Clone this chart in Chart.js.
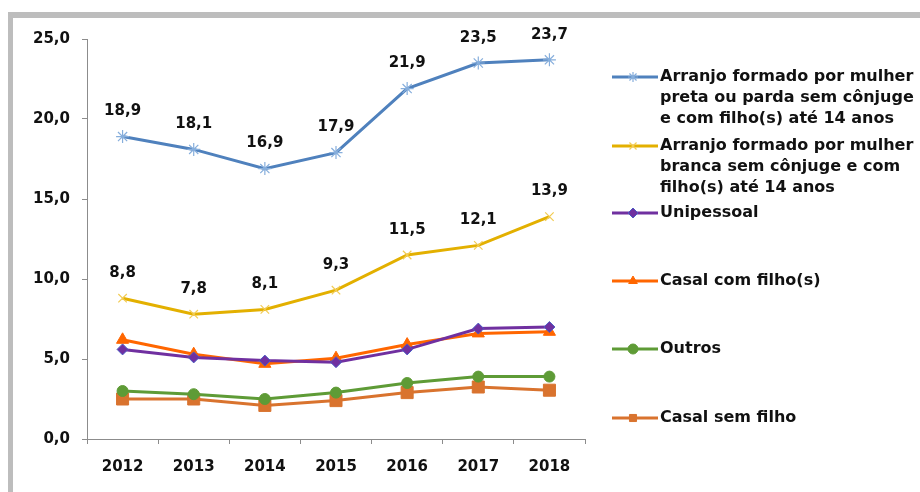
<!DOCTYPE html>
<html>
<head>
<meta charset="utf-8">
<script src="https://cdn.jsdelivr.net/npm/chart.js@4"></script>
<style>
  html, body { margin: 0; padding: 0; background: #fff; }
  #frame {
    position: absolute; left: 8px; top: 12px;
    width: 907px; height: 474px;
    border-top: 6px solid #bdbdbd; border-left: 5px solid #bdbdbd;
  }
  canvas { display: block; }
</style>
</head>
<body>
<div id="frame"><canvas id="grafico" width="907" height="474"></canvas></div>
<script>
const anos = ['2012', '2013', '2014', '2015', '2016', '2017', '2018'];

const pretaParda = [18.9, 18.1, 16.9, 17.9, 21.9, 23.5, 23.7];
const branca = [8.8, 7.8, 8.1, 9.3, 11.5, 12.1, 13.9];
const unipessoal = [5.6, 5.1, 4.9, 4.8, 5.6, 6.9, 7.0];
const casalComFilho = [6.2, 5.3, 4.7, 5.05, 5.9, 6.6, 6.7];
const outros = [3.0, 2.8, 2.5, 2.9, 3.5, 3.9, 3.9];
const casalSemFilho = [2.5, 2.5, 2.1, 2.4, 2.9, 3.25, 3.05];

const yTicks = [0, 5, 10, 15, 20, 25];

const legendaLinhas = [
    ['Arranjo formado por mulher', 'preta ou parda sem cônjuge', 'e com filho(s) até 14 anos'],
    ['Arranjo formado por mulher', 'branca sem cônjuge e com', 'filho(s) até 14 anos'],
    ['Unipessoal'],
    ['Casal com filho(s)'],
    ['Outros'],
    ['Casal sem filho']
];
const legendaY = [59, 128, 195, 263, 331, 400];

const FONTE = '"DejaVu Sans", sans-serif';
const fmt = v => v.toFixed(1).replace('.', ',');

function serie(label, data, cor, estilo, extra) {
    return Object.assign({
        label,
        data,
        borderColor: cor,
        backgroundColor: cor,
        borderWidth: 3,
        pointStyle: estilo,
        pointRadius: 6,
        pointBorderWidth: 1,
        pointBackgroundColor: cor,
        pointBorderColor: cor,
        tension: 0
    }, extra || {});
}

const datasets = [
    serie('Arranjo formado por mulher preta ou parda sem cônjuge e com filho(s) até 14 anos', pretaParda, '#4f81bd', 'star',
        { pointRadius: 6.5, pointBorderWidth: 1.2, pointBorderColor: '#86aedc', pointBackgroundColor: '#86aedc' }),
    serie('Arranjo formado por mulher branca sem cônjuge e com filho(s) até 14 anos', branca, '#e3b000', 'crossRot',
        { pointRadius: 6, pointBorderWidth: 1.2, pointBorderColor: '#f2cc55', pointBackgroundColor: '#f2cc55' }),
    serie('Unipessoal', unipessoal, '#7030a0', 'rectRot',
        { pointRadius: 5.5, pointBorderColor: '#4b5cc4' }),
    serie('Casal com filho(s)', casalComFilho, '#ff6600', 'triangle', { pointRadius: 7 }),
    serie('Outros', outros, '#5e9b36', 'circle', { pointRadius: 5.5 }),
    serie('Casal sem filho', casalSemFilho, '#d9732e', 'rect', { pointRadius: 8.5 })
];

const rotulosValores = {
    id: 'rotulosValores',
    afterDatasetsDraw(chart) {
        const ctx = chart.ctx;
        ctx.save();
        ctx.font = 'bold 15px ' + FONTE;
        ctx.fillStyle = '#111';
        ctx.textAlign = 'center';
        ctx.textBaseline = 'middle';
        [0, 1].forEach(i => {
            const meta = chart.getDatasetMeta(i);
            meta.data.forEach((pt, j) => {
                ctx.fillText(fmt(chart.data.datasets[i].data[j]), pt.x, pt.y - 25);
            });
        });
        ctx.restore();
    }
};

const legendaLateral = {
    id: 'legendaLateral',
    afterDraw(chart) {
        const ctx = chart.ctx;
        ctx.save();
        chart.data.datasets.forEach((ds, i) => {
            const y = legendaY[i];
            ctx.strokeStyle = ds.borderColor;
            ctx.lineWidth = 3;
            ctx.beginPath();
            ctx.moveTo(599, y);
            ctx.lineTo(645, y);
            ctx.stroke();
            ctx.fillStyle = ds.pointBackgroundColor;
            ctx.strokeStyle = ds.pointBorderColor;
            ctx.lineWidth = ds.pointBorderWidth;
            Chart.helpers.drawPoint(ctx, {
                pointStyle: ds.pointStyle,
                radius: Math.min(ds.pointRadius, 5),
                rotation: 0,
                borderWidth: ds.pointBorderWidth
            }, 620, y);
            ctx.font = 'bold 16px ' + FONTE;
            ctx.fillStyle = '#111';
            ctx.textAlign = 'left';
            ctx.textBaseline = 'middle';
            legendaLinhas[i].forEach((linha, k) => {
                ctx.fillText(linha, 647, y + k * 20.7);
            });
        });
        ctx.restore();
    }
};

new Chart(document.getElementById('grafico').getContext('2d'), {
    type: 'line',
    data: { labels: anos, datasets },
    options: {
        responsive: false,
        animation: false,
        layout: { padding: { top: 18, right: 335, bottom: 0, left: 0 } },
        plugins: {
            legend: { display: false },
            tooltip: { enabled: false }
        },
        scales: {
            x: {
                offset: true,
                grid: { offset: true, drawOnChartArea: false, drawTicks: true, tickLength: 5, color: '#8c8c8c' },
                border: { color: '#8c8c8c', width: 1 },
                ticks: { color: '#111', padding: 14, font: { family: FONTE, size: 15, weight: 'bold' } },
                afterFit: s => { s.height = 53; }
            },
            y: {
                min: 0,
                max: 25,
                afterBuildTicks: s => { s.ticks = yTicks.map(v => ({ value: v })); },
                grid: { drawOnChartArea: false, drawTicks: true, tickLength: 5, color: '#8c8c8c' },
                border: { color: '#8c8c8c', width: 1 },
                ticks: {
                    color: '#111',
                    padding: 12,
                    font: { family: FONTE, size: 15, weight: 'bold' },
                    callback: v => fmt(v)
                },
                afterFit: s => { s.width = 74; }
            }
        }
    },
    plugins: [rotulosValores, legendaLateral]
});
</script>
</body>
</html>
